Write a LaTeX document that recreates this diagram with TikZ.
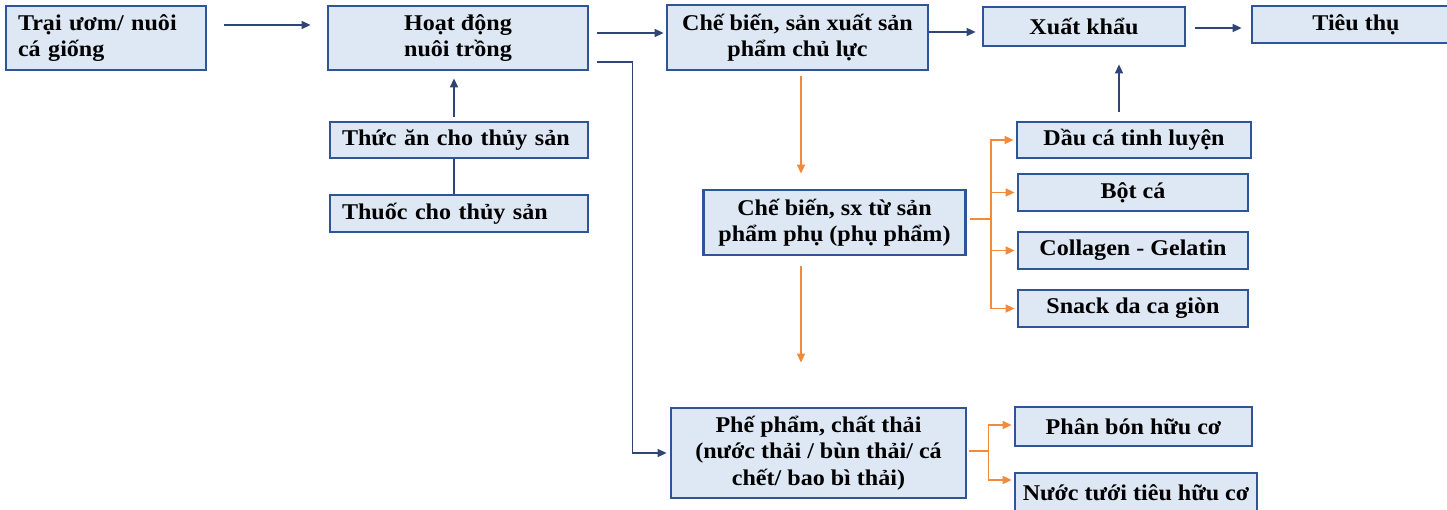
\documentclass[tikz,border=0pt]{standalone}
\usepackage{fontspec}
\setmainfont{Liberation Serif}[FakeStretch=1.07]
\usetikzlibrary{arrows.meta}
\definecolor{boxfill}{HTML}{DEE8F5}
\definecolor{boxdraw}{HTML}{2F5597}
\definecolor{navy}{HTML}{2E4575}
\definecolor{orng}{HTML}{F08A3C}
\begin{document}
\begin{tikzpicture}[x=1pt,y=-1pt,
  box/.style={draw=boxdraw, fill=boxfill, line width=2.8pt, align=center,
    font=\fontsize{22.5}{26.5}\selectfont\bfseries, inner sep=0pt},
  lbox/.style={box, align=left, inner xsep=12pt},
  arr/.style={draw=navy, line width=1.5pt, -{Triangle[length=9pt,width=8pt]}},
  nline/.style={draw=navy, line width=1.3pt},
  oarr/.style={draw=orng, line width=1.6pt, -{Triangle[length=9pt,width=8pt]}},
  oline/.style={draw=orng, line width=1.6pt}]
\useasboundingbox (0,0) rectangle (1447,510);
\clip (0,0) rectangle (1447,510);
\fill[white] (0,0) rectangle (1447,510);

\node[lbox, text width=176pt, minimum height=64pt] (b1) at (106,38) {Trại ươm/ nuôi\\cá giống};
\node[box, minimum width=260pt, minimum height=64pt] (b2) at (458,38) {Hoạt động\\nuôi trồng};
\node[box, minimum width=261pt, minimum height=65pt] (b3) at (797.5,37.5) {Chế biến, sản xuất sản\\phẩm chủ lực};
\node[box, minimum width=202pt, minimum height=39pt] (b4) at (1084,26.5) {Xuất khẩu};
\node[box, minimum width=208pt, minimum height=37pt] (b5) at (1356,24.5) {Tiêu thụ};
\node[lbox, text width=234pt, minimum height=36pt] (ta) at (459,140) {Thức ăn cho thủy sản};
\node[lbox, text width=234pt, minimum height=37pt] (th) at (459,213.5) {Thuốc cho thủy sản};
\node[box, minimum width=262pt, minimum height=65pt] (b6) at (834.5,222.5) {Chế biến, sx từ sản\\phẩm phụ (phụ phẩm)};
\node[box, minimum width=295pt, minimum height=90pt] (b7) at (818.5,453) {Phế phẩm, chất thải\\(nước thải / bùn thải/ cá\\chết/ bao bì thải)};
\node[box, minimum width=234pt, minimum height=36pt] (d1) at (1134,140) {Dầu cá tinh luyện};
\node[box, minimum width=230pt, minimum height=37pt] (d2) at (1133,192.5) {Bột cá};
\node[box, minimum width=230pt, minimum height=37pt] (d3) at (1133,250.5) {Collagen - Gelatin};
\node[box, minimum width=230pt, minimum height=37pt] (d4) at (1133,308.5) {Snack da ca giòn};
\node[box, minimum width=237pt, minimum height=39pt] (p1) at (1133.5,426.5) {Phân bón hữu cơ};
\node[box, minimum width=242pt, minimum height=40pt] (p2) at (1136,493) {Nước tưới tiêu hữu cơ};

\draw[arr] ([shift={(17,-13)}]b1.east) -- ([shift={(-16,-13)}]b2.west);
\draw[arr] ([shift={(8,-5)}]b2.east) -- ([shift={(-2,-4.5)}]b3.west);
\draw[arr] ([shift={(8,24)}]b2.east) -- ++(35,0) |- ([shift={(-3,0)}]b7.west);
\draw[arr] ([shift={(0,-5.5)}]b3.east) -- ([shift={(-6,5.5)}]b4.west);
\draw[arr] ([shift={(9,1.5)}]b4.east) -- ([shift={(-9,3.5)}]b5.west);
\draw[arr] ([shift={(-5,-4)}]ta.north) -- ([shift={(-4,7)}]b2.south);
\draw[nline] ([xshift=-5]th.north) -- ([xshift=-5]ta.south);
\draw[oarr] ([shift={(3.5,5)}]b3.south) -- ([shift={(-33.5,-15)}]b6.north);
\draw[oarr] ([shift={(-33.5,10)}]b6.south) -- ([shift={(-17.5,-44)}]b7.north);
\draw[arr] ([shift={(-15,-9)}]d1.north) -- ([shift={(35,17)}]b4.south);

\coordinate (j1) at ([shift={(24,-3.5)}]b6.east);
\draw[oline] ([shift={(3,-3.5)}]b6.east) -- (j1);
\foreach \d in {d1,d2,d3,d4} \draw[oarr] (j1) |- ([xshift=-2]\d.west);

\coordinate (j2) at ([shift={(21,-2)}]b7.east);
\draw[oline] ([shift={(2,-2)}]b7.east) -- (j2);
\draw[oarr] (j2) |- ([shift={(-2,-1.5)}]p1.west);
\draw[oarr] (j2) |- ([shift={(-2,-13)}]p2.west);
\end{tikzpicture}
\end{document}
